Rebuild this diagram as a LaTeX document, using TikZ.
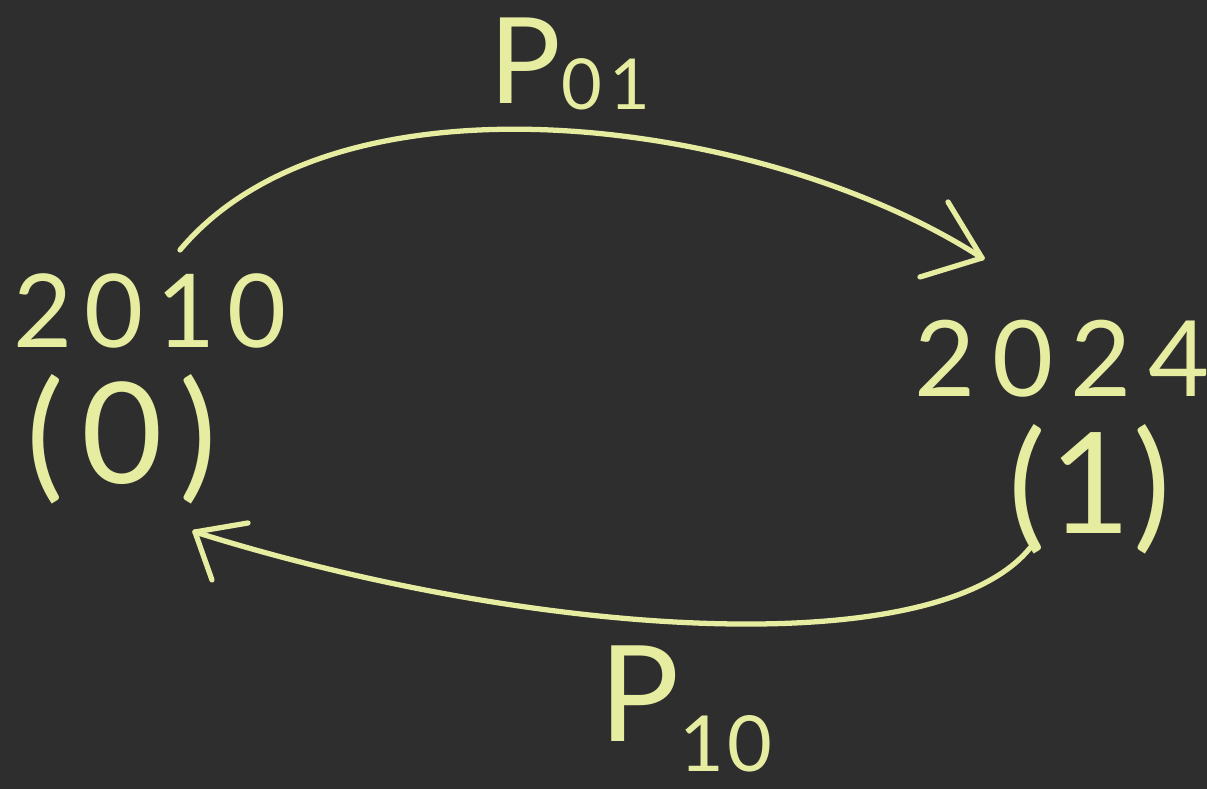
\documentclass[tikz,border=0pt]{standalone}
\usepackage{fontspec}
\setmainfont{Lato}
\usetikzlibrary{calc}
\definecolor{bg}{RGB}{46,46,46}
\definecolor{chalk}{RGB}{230,236,160}
\tikzset{
  lbl/.style={text=chalk, inner sep=0pt, font=\fontsize{29pt}{31pt}\selectfont\addfontfeature{LetterSpace=12}},
  big/.style={text=chalk, inner sep=0pt, font=\fontsize{40pt}{42pt}\selectfont\addfontfeature{LetterSpace=12}},
  stroke/.style={draw=chalk, line width=1.5pt, line cap=round, line join=round}
}
\begin{document}
\begin{tikzpicture}
\useasboundingbox (0,0) rectangle (12.07,7.89);
\fill[bg] (0,0) rectangle (12.07,7.89);

% labels
\node[lbl] (y2010) at (1.50,4.78) {2010};
\node[big] (s0) at (1.22,3.50) {(0)};
\node[lbl, font=\fontsize{30pt}{32pt}\selectfont\addfontfeature{LetterSpace=16}] (y2024) at (10.62,4.30) {2024};
\node[big, font=\fontsize{40pt}{42pt}\selectfont\addfontfeature{LetterSpace=2}] (s1) at (10.90,3.00) {(1)};
\node[text=chalk, inner sep=0pt, font=\fontsize{34pt}{36pt}\selectfont] (p01) at (5.70,7.25) {P\raisebox{-0.05em}{\fontsize{20pt}{22pt}\selectfont\addfontfeature{LetterSpace=10}01}};
\node[text=chalk, inner sep=0pt, font=\fontsize{38pt}{40pt}\selectfont] (p10) at (6.86,0.80) {P\raisebox{-0.22em}{\fontsize{22pt}{24pt}\selectfont\addfontfeature{LetterSpace=5}10}};

% connector end points
\coordinate (a0) at (1.80,5.39);
\coordinate (t1) at (9.82,5.31);
\coordinate (b0) at (10.30,2.41);
\coordinate (t0) at (1.95,2.57);

% top arrow 0 -> 1
\draw[stroke] (a0) .. controls (3.41,7.31) and (7.72,6.68) .. (t1);
\draw[stroke] (t1) -- ++(-0.34,0.56);
\draw[stroke] (t1) -- ++(-0.62,-0.19);

% bottom arrow 1 -> 0
\draw[stroke] (b0) .. controls (9.35,1.24) and (5.29,1.52) .. (t0);
\draw[stroke] (t0) -- ++(0.53,0.09);
\draw[stroke] (t0) -- ++(0.17,-0.48);
\end{tikzpicture}
\end{document}
